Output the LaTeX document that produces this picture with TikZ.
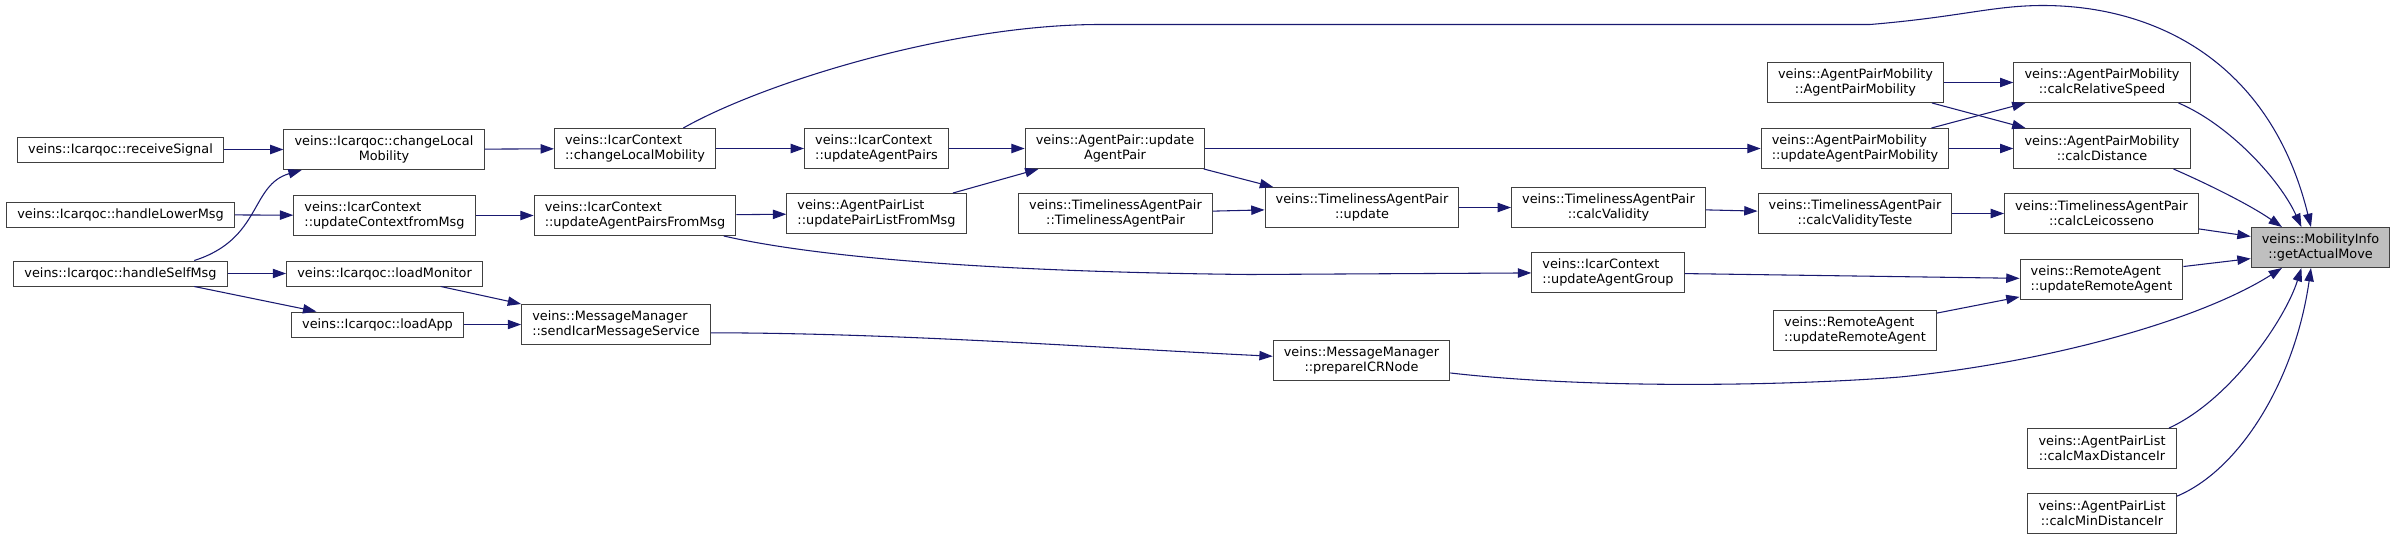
\documentclass[tikz,border=0pt]{standalone}
\usepackage{fontspec}
\setmainfont{DejaVu Sans}
\usepackage{xcolor}
\definecolor{cEdge}{HTML}{191970}
\definecolor{cBorder}{HTML}{404040}
\definecolor{cRoot}{HTML}{BFBFBF}
\usepackage{tikz}
\usetikzlibrary{arrows.meta}
\tikzset{
  fn-box/.style={draw=cBorder,line width=0.75pt,fill=white,inner xsep=8pt,inner ysep=1pt,
    minimum height=18.75pt,align=center,font=\fontsize{9.64pt}{11.25pt}\selectfont},
  fn-two/.style={fn-box,minimum height=30pt},
  fn-left/.style={fn-two,align=left},
  fn-root/.style={fn-two,fill=cRoot},
  call/.style={-{Triangle[length=10pt,width=7pt]},line width=0.8pt,draw=cEdge},
}

\begin{document}
\begin{tikzpicture}[x=0.75pt,y=-0.75pt]
  \useasboundingbox (0,0) rectangle (2397,539);
  % callers, left to right
  \node[fn-box] (rs) at (120.5,149.5) {veins::Icarqoc::receiveSignal};
  \node[fn-box] (hlm) at (120.5,214.5) {veins::Icarqoc::handleLowerMsg};
  \node[fn-box] (hsm) at (120.5,273.5) {veins::Icarqoc::handleSelfMsg};
  \node[fn-two] (iclm) at (384,149.5) {veins::Icarqoc::changeLocal\\Mobility};
  \node[fn-left] (ucfm) at (384.5,215.5) {veins::IcarContext\\::updateContextfromMsg};
  \node[fn-box] (lmon) at (384.5,273.5) {veins::Icarqoc::loadMonitor};
  \node[fn-box] (lapp) at (377.5,324.5) {veins::Icarqoc::loadApp};
  \node[fn-left] (icclm) at (635,148.5) {veins::IcarContext\\::changeLocalMobility};
  \node[fn-left] (uapfm) at (635,215.5) {veins::IcarContext\\::updateAgentPairsFromMsg};
  \node[fn-left] (sims) at (616,324.5) {veins::MessageManager\\::sendIcarMessageService};
  \node[fn-left] (uaps) at (876.5,148.5) {veins::IcarContext\\::updateAgentPairs};
  \node[fn-left] (uplfm) at (876.5,213.5) {veins::AgentPairList\\::updatePairListFromMsg};
  \node[fn-two] (uap) at (1115,148.5) {veins::AgentPair::update\\AgentPair};
  \node[fn-two] (tctor) at (1115.5,213.5) {veins::TimelinessAgentPair\\::TimelinessAgentPair};
  \node[fn-two] (tupd) at (1362,207.5) {veins::TimelinessAgentPair\\::update};
  \node[fn-two] (pirn) at (1361.5,360.5) {veins::MessageManager\\::prepareICRNode};
  \node[fn-two] (cval) at (1608.5,207.5) {veins::TimelinessAgentPair\\::calcValidity};
  \node[fn-left] (uag) at (1608,272.5) {veins::IcarContext\\::updateAgentGroup};
  \node[fn-two] (apmc) at (1855.5,82.5) {veins::AgentPairMobility\\::AgentPairMobility};
  \node[fn-left] (uapm) at (1855,148.5) {veins::AgentPairMobility\\::updateAgentPairMobility};
  \node[fn-two] (cvt) at (1855,213.5) {veins::TimelinessAgentPair\\::calcValidityTeste};
  \node[fn-left] (ra2) at (1855,330.5) {veins::RemoteAgent\\::updateRemoteAgent};
  \node[fn-two] (crs) at (2102,82.5) {veins::AgentPairMobility\\::calcRelativeSpeed};
  \node[fn-two] (cd) at (2102,148.5) {veins::AgentPairMobility\\::calcDistance};
  \node[fn-two] (cl) at (2101.5,213.5) {veins::TimelinessAgentPair\\::calcLeicosseno};
  \node[fn-left] (ura) at (2101.5,279.5) {veins::RemoteAgent\\::updateRemoteAgent};
  \node[fn-two] (cmax) at (2102,448.5) {veins::AgentPairList\\::calcMaxDistanceIr};
  \node[fn-two] (cmin) at (2102,513.5) {veins::AgentPairList\\::calcMinDistanceIr};
  \node[fn-root] (gam) at (2320.5,247.5) {veins::MobilityInfo\\::getActualMove};

  \draw[call] (rs) -- (iclm);
  \draw[call] (hlm) -- (ucfm);
  \draw[call] (hsm.10) .. controls (262,239) and (250,185) .. (iclm.-166);
  \draw[call] (hsm) -- (lmon);
  \draw[call] (hsm.-10) -- (lapp.168);
  \draw[call] (iclm) -- (icclm);
  \draw[call] (ucfm) -- (uapfm);
  \draw[call] (lmon.-13) -- (sims.north west);
  \draw[call] (lapp) -- (sims);
  \draw[call] (icclm) -- (uaps);
  \draw[call] (icclm.23) .. controls (763,83) and (950,24.5) .. (1100,24.5) -- (1870,24.5)
    .. controls (1960,17) and (1993,5.5) .. (2043,5.5) .. controls (2153,5.5) and (2270,60) .. (gam.115);
  \draw[call] (uapfm) -- (uplfm);
  \draw[call] (uapfm.-13) .. controls (820,258) and (1000,272) .. (1250,274.5) -- (uag);
  \draw[call] (sims.-5) .. controls (900,333) and (1100,348) .. (pirn);
  \draw[call] (uaps) -- (uap);
  \draw[call] (uplfm.15) -- (uap.-165);
  \draw[call] (uap) -- (uapm);
  \draw[call] (uap.-13) -- (tupd.167);
  \draw[call] (tctor) -- (tupd);
  \draw[call] (tupd) -- (cval);
  \draw[call] (cval) -- (cvt);
  \draw[call] (uag) -- (ura);
  \draw[call] (pirn.-8) .. controls (1600,390) and (1800,385) .. (1900,377)
    .. controls (2050,362) and (2200,320) .. (gam.-152);
  \draw[call] (apmc) -- (crs);
  \draw[call] (apmc.-15) -- (cd.165);
  \draw[call] (uapm.15) -- (crs.-165);
  \draw[call] (uapm) -- (cd);
  \draw[call] (cvt) -- (cl);
  \draw[call] (ra2.12) -- (ura.-168);
  \draw[call] (crs.-15) .. controls (2230,125) and (2280,180) .. (gam.133);
  \draw[call] (cd.-16) .. controls (2210,185) and (2250,205) .. (gam.152);
  \draw[call] (cl.-9) -- (gam.171);
  \draw[call] (ura.9) -- (gam.-171);
  \draw[call] (cmax.17) .. controls (2230,400) and (2285,320) .. (gam.-133);
  \draw[call] (cmin.13) .. controls (2240,470) and (2295,380) .. (gam.-115);
\end{tikzpicture}
\end{document}
